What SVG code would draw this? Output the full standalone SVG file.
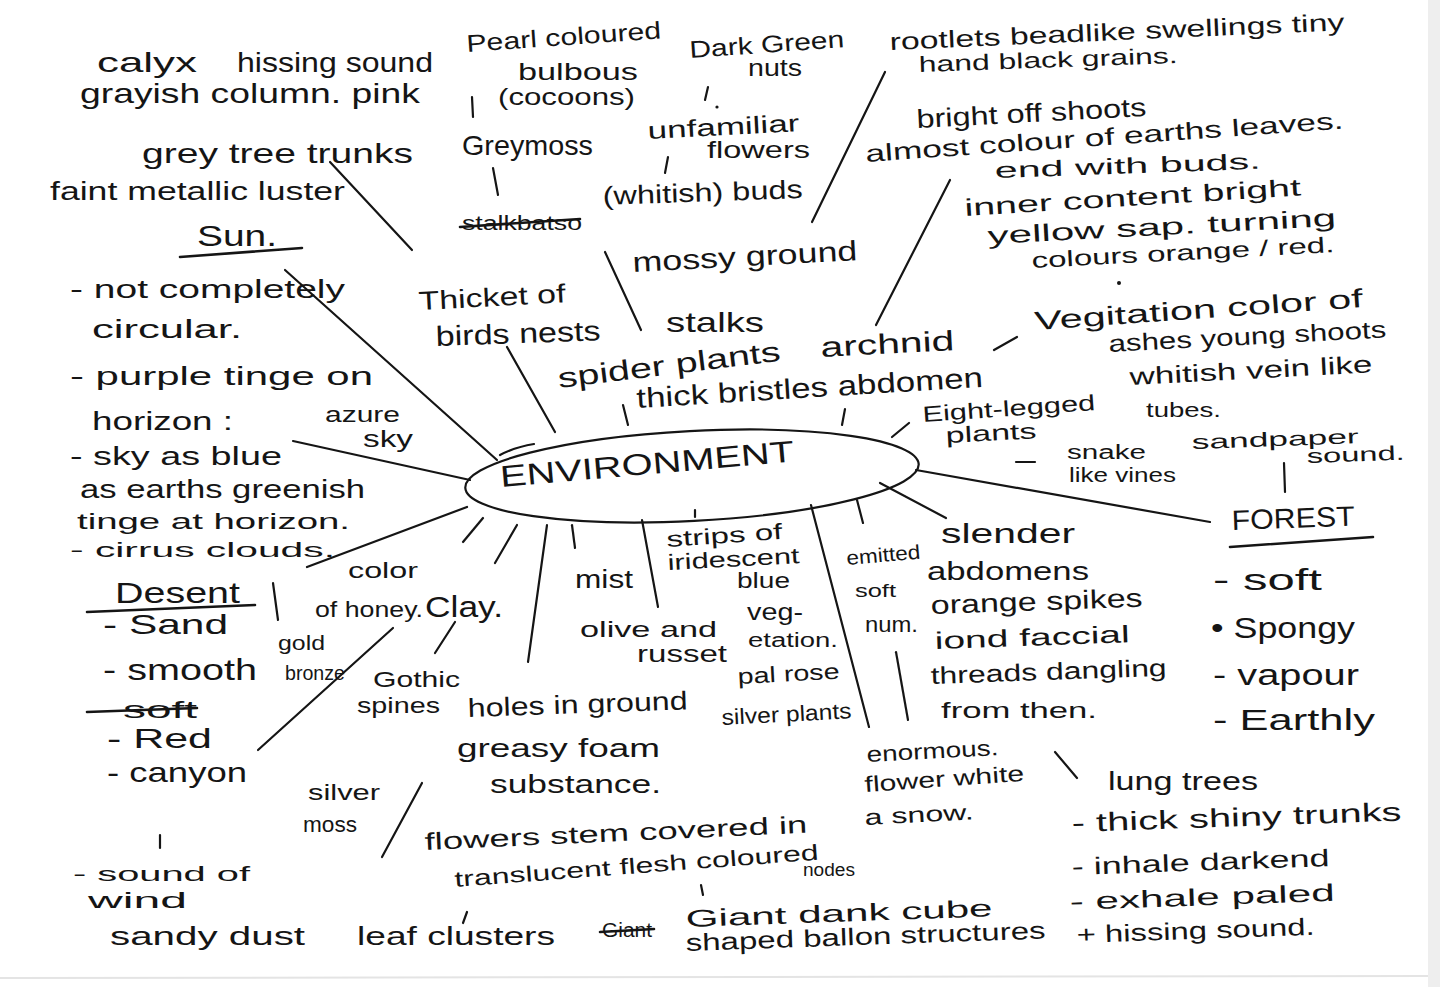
<svg xmlns="http://www.w3.org/2000/svg" width="1440" height="987" viewBox="0 0 1440 987">
<style>
text{font-family:"Liberation Sans",Arial,sans-serif;fill:#151515}
.s18{font-size:18px}.s20{font-size:20px}.s22{font-size:22px}.s24{font-size:24px}.s26{font-size:26px}.s28{font-size:28px}.s30{font-size:30px}
.ln{stroke:#151515;stroke-width:2.2;stroke-linecap:round;fill:none}
.ul{stroke:#151515;stroke-width:2.6;stroke-linecap:round;fill:none}
</style>
<rect width="1440" height="987" fill="#ffffff"/>
<rect x="1428" y="0" width="12" height="987" fill="#eeeeee"/>
<line x1="0" y1="978" x2="1428" y2="976" stroke="#e4e4e4" stroke-width="2"/>

<g id="connectors">
<line class="ln" x1="330" y1="162" x2="412" y2="250"/>
<line class="ln" x1="285" y1="270" x2="497" y2="460"/>
<line class="ln" x1="293" y1="441" x2="470" y2="480"/>
<line class="ln" x1="307" y1="567" x2="467" y2="507"/>
<line class="ln" x1="507" y1="347" x2="555" y2="432"/>
<line class="ln" x1="605" y1="252" x2="641" y2="330"/>
<line class="ln" x1="812" y1="222" x2="885" y2="72"/>
<line class="ln" x1="950" y1="180" x2="876" y2="325"/>
<line class="ln" x1="623" y1="405" x2="628" y2="425"/>
<line class="ln" x1="845" y1="409" x2="842" y2="425"/>
<line class="ln" x1="892" y1="437" x2="909" y2="423"/>
<line class="ln" x1="994" y1="350" x2="1017" y2="337"/>
<line class="ln" x1="1016" y1="462" x2="1035" y2="462"/>
<line class="ln" x1="916" y1="470" x2="1210" y2="522"/>
<line class="ln" x1="880" y1="483" x2="946" y2="518"/>
<line class="ln" x1="1284" y1="463" x2="1285" y2="492"/>
<line class="ln" x1="857" y1="500" x2="863" y2="523"/>
<line class="ln" x1="811" y1="505" x2="869" y2="727"/>
<line class="ln" x1="896" y1="652" x2="908" y2="720"/>
<line class="ln" x1="642" y1="520" x2="658" y2="607"/>
<line class="ln" x1="572" y1="525" x2="575" y2="548"/>
<line class="ln" x1="547" y1="525" x2="528" y2="662"/>
<line class="ln" x1="517" y1="525" x2="495" y2="563"/>
<line class="ln" x1="483" y1="518" x2="463" y2="542"/>
<line class="ln" x1="273" y1="583" x2="278" y2="620"/>
<line class="ln" x1="393" y1="628" x2="258" y2="750"/>
<line class="ln" x1="455" y1="622" x2="435" y2="653"/>
<line class="ln" x1="422" y1="783" x2="382" y2="857"/>
<line class="ln" x1="160" y1="835" x2="160" y2="848"/>
<line class="ln" x1="467" y1="912" x2="463" y2="923"/>
<line class="ln" x1="701" y1="885" x2="703" y2="895"/>
<line class="ln" x1="1055" y1="752" x2="1077" y2="778"/>
<line class="ln" x1="472" y1="97" x2="473" y2="117"/>
<line class="ln" x1="708" y1="87" x2="705" y2="100"/>
<line class="ln" x1="493" y1="168" x2="498" y2="195"/>
<line class="ln" x1="668" y1="157" x2="665" y2="173"/>
<line class="ln" x1="695" y1="510" x2="695" y2="517"/>
<circle cx="717" cy="107" r="1.6" fill="#151515"/>
<circle cx="1119" cy="283" r="2" fill="#151515"/>
</g>

<g id="environment">
<ellipse class="ln" cx="692" cy="476" rx="227" ry="45" transform="rotate(-3 692 476)"/>
<path class="ln" d="M500,455 Q515,447 534,444"/>
<text class="s30" x="501" y="487" textLength="295" lengthAdjust="spacingAndGlyphs" transform="rotate(-5 501 487)">ENVIRONMENT</text>
</g>

<g id="top-left">
<text class="s28" x="97" y="72" textLength="100" lengthAdjust="spacingAndGlyphs">calyx</text>
<text class="s28" x="237" y="72" textLength="196" lengthAdjust="spacingAndGlyphs">hissing sound</text>
<text class="s28" x="80" y="103" textLength="340" lengthAdjust="spacingAndGlyphs">grayish column. pink</text>
<text class="s28" x="142" y="163" textLength="271" lengthAdjust="spacingAndGlyphs">grey tree trunks</text>
<text class="s26" x="50" y="200" textLength="295" lengthAdjust="spacingAndGlyphs">faint metallic luster</text>
</g>

<g id="sun">
<text class="s30" x="197" y="246" textLength="80" lengthAdjust="spacingAndGlyphs">Sun.</text>
<path class="ul" d="M180,257 L302,248"/>
<text class="s26" x="70" y="298" textLength="275" lengthAdjust="spacingAndGlyphs">- not completely</text>
<text class="s26" x="92" y="338" textLength="150" lengthAdjust="spacingAndGlyphs">circular.</text>
<text class="s26" x="70" y="385" textLength="303" lengthAdjust="spacingAndGlyphs">- purple tinge on</text>
<text class="s26" x="92" y="430" textLength="141" lengthAdjust="spacingAndGlyphs">horizon :</text>
<text class="s22" x="325" y="422" textLength="75" lengthAdjust="spacingAndGlyphs">azure</text>
<text class="s24" x="363" y="447" textLength="50" lengthAdjust="spacingAndGlyphs">sky</text>
<text class="s26" x="70" y="465" textLength="212" lengthAdjust="spacingAndGlyphs">- sky as blue</text>
<text class="s26" x="80" y="498" textLength="285" lengthAdjust="spacingAndGlyphs">as earths greenish</text>
<text class="s22" x="77" y="529" textLength="273" lengthAdjust="spacingAndGlyphs">tinge at horizon.</text>
<text class="s20" x="70" y="557" textLength="265" lengthAdjust="spacingAndGlyphs">- cirrus clouds.</text>
</g>

<g id="desert">
<text class="s30" x="115" y="603" textLength="125" lengthAdjust="spacingAndGlyphs">Desent</text>
<path class="ul" d="M87,612 L255,605"/>
<text class="s28" x="103" y="634" textLength="125" lengthAdjust="spacingAndGlyphs">- Sand</text>
<text class="s30" x="103" y="680" textLength="154" lengthAdjust="spacingAndGlyphs">- smooth</text>
<text class="s24" x="123" y="718" textLength="74" lengthAdjust="spacingAndGlyphs">soft</text>
<path class="ul" d="M87,712 L197,708"/>
<text class="s28" x="107" y="748" textLength="105" lengthAdjust="spacingAndGlyphs">- Red</text>
<text class="s28" x="107" y="782" textLength="140" lengthAdjust="spacingAndGlyphs">- canyon</text>
<text class="s22" x="348" y="578" textLength="70" lengthAdjust="spacingAndGlyphs">color</text>
<text class="s22" x="315" y="617" textLength="108" lengthAdjust="spacingAndGlyphs">of honey.</text>
<text class="s30" x="425" y="617" textLength="78" lengthAdjust="spacingAndGlyphs">Clay.</text>
<text class="s20" x="278" y="650" textLength="47" lengthAdjust="spacingAndGlyphs">gold</text>
<text class="s20" x="285" y="680" textLength="60" lengthAdjust="spacingAndGlyphs">bronze</text>
<text class="s22" x="373" y="687" textLength="87" lengthAdjust="spacingAndGlyphs">Gothic</text>
<text class="s22" x="357" y="713" textLength="83" lengthAdjust="spacingAndGlyphs">spines</text>
<text class="s22" x="308" y="800" textLength="72" lengthAdjust="spacingAndGlyphs">silver</text>
<text class="s22" x="303" y="832" textLength="54" lengthAdjust="spacingAndGlyphs">moss</text>
<text class="s20" x="73" y="881" textLength="177" lengthAdjust="spacingAndGlyphs">- sound of</text>
<text class="s22" x="88" y="908" textLength="99" lengthAdjust="spacingAndGlyphs">wind</text>
<text class="s26" x="110" y="945" textLength="195" lengthAdjust="spacingAndGlyphs">sandy dust</text>
</g>

<g id="bottom-middle">
<text class="s26" x="575" y="588" textLength="58" lengthAdjust="spacingAndGlyphs">mist</text>
<text class="s22" x="667" y="547" textLength="116" lengthAdjust="spacingAndGlyphs" transform="rotate(-4 667 547)">strips of</text>
<text class="s22" x="668" y="570" textLength="132" lengthAdjust="spacingAndGlyphs" transform="rotate(-3 668 570)">iridescent</text>
<text class="s22" x="737" y="588" textLength="53" lengthAdjust="spacingAndGlyphs">blue</text>
<text class="s22" x="580" y="637" textLength="137" lengthAdjust="spacingAndGlyphs">olive and</text>
<text class="s24" x="747" y="620" textLength="56" lengthAdjust="spacingAndGlyphs">veg-</text>
<text class="s24" x="637" y="662" textLength="90" lengthAdjust="spacingAndGlyphs">russet</text>
<text class="s20" x="748" y="647" textLength="90" lengthAdjust="spacingAndGlyphs">etation.</text>
<text class="s22" x="738" y="684" textLength="102" lengthAdjust="spacingAndGlyphs" transform="rotate(-3 738 684)">pal rose</text>
<text class="s22" x="722" y="725" textLength="130" lengthAdjust="spacingAndGlyphs" transform="rotate(-3 722 725)">silver plants</text>
<text class="s26" x="468" y="717" textLength="220" lengthAdjust="spacingAndGlyphs" transform="rotate(-2 468 717)">holes in ground</text>
<text class="s26" x="457" y="757" textLength="203" lengthAdjust="spacingAndGlyphs">greasy foam</text>
<text class="s26" x="490" y="793" textLength="171" lengthAdjust="spacingAndGlyphs">substance.</text>
<text class="s24" x="425" y="850" textLength="383" lengthAdjust="spacingAndGlyphs" transform="rotate(-2.6 425 850)">flowers stem covered in</text>
<text class="s22" x="455" y="887" textLength="365" lengthAdjust="spacingAndGlyphs" transform="rotate(-4.3 455 887)">translucent flesh coloured</text>
<text class="s18" x="803" y="876" textLength="52" lengthAdjust="spacingAndGlyphs">nodes</text>
<text class="s26" x="357" y="945" textLength="198" lengthAdjust="spacingAndGlyphs">leaf clusters</text>
<text class="s20" x="602" y="937" textLength="50" lengthAdjust="spacingAndGlyphs">Giant</text>
<path class="ul" d="M600,932 L654,929"/>
<text class="s24" x="686" y="927" textLength="307" lengthAdjust="spacingAndGlyphs" transform="rotate(-2 686 927)">Giant dank cube</text>
<text class="s24" x="686" y="951" textLength="360" lengthAdjust="spacingAndGlyphs" transform="rotate(-2 686 951)">shaped ballon structures</text>
</g>

<g id="bottom-right">
<text class="s20" x="847" y="565" textLength="74" lengthAdjust="spacingAndGlyphs" transform="rotate(-5 847 565)">emitted</text>
<text class="s28" x="941" y="543" textLength="134" lengthAdjust="spacingAndGlyphs">slender</text>
<text class="s18" x="855" y="597" textLength="41" lengthAdjust="spacingAndGlyphs">soft</text>
<text class="s26" x="927" y="580" textLength="162" lengthAdjust="spacingAndGlyphs">abdomens</text>
<text class="s22" x="865" y="632" textLength="53" lengthAdjust="spacingAndGlyphs">num.</text>
<text class="s26" x="931" y="614" textLength="212" lengthAdjust="spacingAndGlyphs" transform="rotate(-2 931 614)">orange spikes</text>
<text class="s24" x="935" y="649" textLength="195" lengthAdjust="spacingAndGlyphs" transform="rotate(-2 935 649)">iond faccial</text>
<text class="s24" x="931" y="684" textLength="236" lengthAdjust="spacingAndGlyphs" transform="rotate(-2 931 684)">threads dangling</text>
<text class="s22" x="941" y="718" textLength="156" lengthAdjust="spacingAndGlyphs">from then.</text>
<text class="s22" x="867" y="762" textLength="132" lengthAdjust="spacingAndGlyphs" transform="rotate(-3 867 762)">enormous.</text>
<text class="s22" x="865" y="792" textLength="160" lengthAdjust="spacingAndGlyphs" transform="rotate(-4 865 792)">flower white</text>
<text class="s22" x="865" y="825" textLength="109" lengthAdjust="spacingAndGlyphs" transform="rotate(-3 865 825)">a snow.</text>
</g>

<g id="forest">
<text class="s28" x="1232" y="530" textLength="123" lengthAdjust="spacingAndGlyphs" transform="rotate(-2 1232 530)">FOREST</text>
<path class="ul" d="M1230,547 L1373,537"/>
<text class="s30" x="1213" y="590" textLength="109" lengthAdjust="spacingAndGlyphs">- soft</text>
<text class="s30" x="1211" y="638" textLength="144" lengthAdjust="spacingAndGlyphs">• Spongy</text>
<text class="s30" x="1213" y="685" textLength="146" lengthAdjust="spacingAndGlyphs">- vapour</text>
<text class="s30" x="1213" y="730" textLength="162" lengthAdjust="spacingAndGlyphs">- Earthly</text>
<text class="s26" x="1108" y="790" textLength="150" lengthAdjust="spacingAndGlyphs">lung trees</text>
<text class="s26" x="1072" y="832" textLength="330" lengthAdjust="spacingAndGlyphs" transform="rotate(-2 1072 832)">- thick shiny trunks</text>
<text class="s24" x="1072" y="875" textLength="258" lengthAdjust="spacingAndGlyphs" transform="rotate(-2 1072 875)">- inhale darkend</text>
<text class="s24" x="1070" y="910" textLength="265" lengthAdjust="spacingAndGlyphs" transform="rotate(-2 1070 910)">- exhale paled</text>
<text class="s24" x="1077" y="943" textLength="238" lengthAdjust="spacingAndGlyphs" transform="rotate(-2 1077 943)">+ hissing sound.</text>
</g>

<g id="upper-middle">
<text class="s24" x="467" y="52" textLength="195" lengthAdjust="spacingAndGlyphs" transform="rotate(-4 467 52)">Pearl coloured</text>
<text class="s24" x="518" y="80" textLength="120" lengthAdjust="spacingAndGlyphs">bulbous</text>
<text class="s24" x="498" y="105" textLength="137" lengthAdjust="spacingAndGlyphs">(cocoons)</text>
<text class="s24" x="690" y="58" textLength="155" lengthAdjust="spacingAndGlyphs" transform="rotate(-4 690 58)">Dark Green</text>
<text class="s24" x="748" y="76" textLength="54" lengthAdjust="spacingAndGlyphs">nuts</text>
<text class="s28" x="462" y="155" textLength="131" lengthAdjust="spacingAndGlyphs">Greymoss</text>
<text class="s24" x="648" y="139" textLength="152" lengthAdjust="spacingAndGlyphs" transform="rotate(-3 648 139)">unfamiliar</text>
<text class="s24" x="707" y="158" textLength="103" lengthAdjust="spacingAndGlyphs">flowers</text>
<text class="s20" x="462" y="230" textLength="120" lengthAdjust="spacingAndGlyphs">stalkbatso</text>
<path class="ul" d="M460,227 L580,219"/>
<text class="s26" x="603" y="205" textLength="200" lengthAdjust="spacingAndGlyphs" transform="rotate(-2 603 205)">(whitish) buds</text>
<text class="s28" x="633" y="272" textLength="225" lengthAdjust="spacingAndGlyphs" transform="rotate(-3 633 272)">mossy ground</text>
<text class="s26" x="419" y="310" textLength="147" lengthAdjust="spacingAndGlyphs" transform="rotate(-3 419 310)">Thicket of</text>
<text class="s28" x="436" y="346" textLength="165" lengthAdjust="spacingAndGlyphs" transform="rotate(-2 436 346)">birds nests</text>
<text class="s28" x="666" y="332" textLength="98" lengthAdjust="spacingAndGlyphs">stalks</text>
<text class="s28" x="559" y="388" textLength="224" lengthAdjust="spacingAndGlyphs" transform="rotate(-7 559 388)">spider plants</text>
<text class="s28" x="821" y="357" textLength="134" lengthAdjust="spacingAndGlyphs" transform="rotate(-3 821 357)">archnid</text>
<text class="s28" x="637" y="408" textLength="347" lengthAdjust="spacingAndGlyphs" transform="rotate(-3.5 637 408)">thick bristles abdomen</text>
</g>

<g id="upper-right">
<text class="s24" x="890" y="50" textLength="455" lengthAdjust="spacingAndGlyphs" transform="rotate(-2.5 890 50)">rootlets beadlike swellings tiny</text>
<text class="s22" x="919" y="72" textLength="259" lengthAdjust="spacingAndGlyphs" transform="rotate(-2 919 72)">hand black grains.</text>
<text class="s26" x="917" y="128" textLength="230" lengthAdjust="spacingAndGlyphs" transform="rotate(-3 917 128)">bright off shoots</text>
<text class="s24" x="866" y="162" textLength="479" lengthAdjust="spacingAndGlyphs" transform="rotate(-4 866 162)">almost colour of earths leaves.</text>
<text class="s22" x="995" y="178" textLength="266" lengthAdjust="spacingAndGlyphs" transform="rotate(-2 995 178)">end with buds.</text>
<text class="s24" x="965" y="216" textLength="337" lengthAdjust="spacingAndGlyphs" transform="rotate(-3.5 965 216)">inner content bright</text>
<text class="s24" x="988" y="244" textLength="349" lengthAdjust="spacingAndGlyphs" transform="rotate(-3 988 244)">yellow sap. turning</text>
<text class="s22" x="1032" y="268" textLength="303" lengthAdjust="spacingAndGlyphs" transform="rotate(-3 1032 268)">colours orange / red.</text>
<text class="s26" x="1035" y="330" textLength="329" lengthAdjust="spacingAndGlyphs" transform="rotate(-4 1035 330)">Vegitation color of</text>
<text class="s24" x="1109" y="352" textLength="278" lengthAdjust="spacingAndGlyphs" transform="rotate(-3 1109 352)">ashes young shoots</text>
<text class="s24" x="1130" y="385" textLength="243" lengthAdjust="spacingAndGlyphs" transform="rotate(-3 1130 385)">whitish vein like</text>
<text class="s20" x="1146" y="417" textLength="75" lengthAdjust="spacingAndGlyphs">tubes.</text>
<text class="s22" x="923" y="422" textLength="173" lengthAdjust="spacingAndGlyphs" transform="rotate(-4 923 422)">Eight-legged</text>
<text class="s22" x="946" y="443" textLength="91" lengthAdjust="spacingAndGlyphs" transform="rotate(-3 946 443)">plants</text>
<text class="s20" x="1067" y="459" textLength="79" lengthAdjust="spacingAndGlyphs">snake</text>
<text class="s20" x="1069" y="482" textLength="107" lengthAdjust="spacingAndGlyphs">like vines</text>
<text class="s20" x="1192" y="449" textLength="167" lengthAdjust="spacingAndGlyphs" transform="rotate(-2 1192 449)">sandpaper</text>
<text class="s20" x="1307" y="463" textLength="98" lengthAdjust="spacingAndGlyphs" transform="rotate(-2 1307 463)">sound.</text>
</g>
</svg>
